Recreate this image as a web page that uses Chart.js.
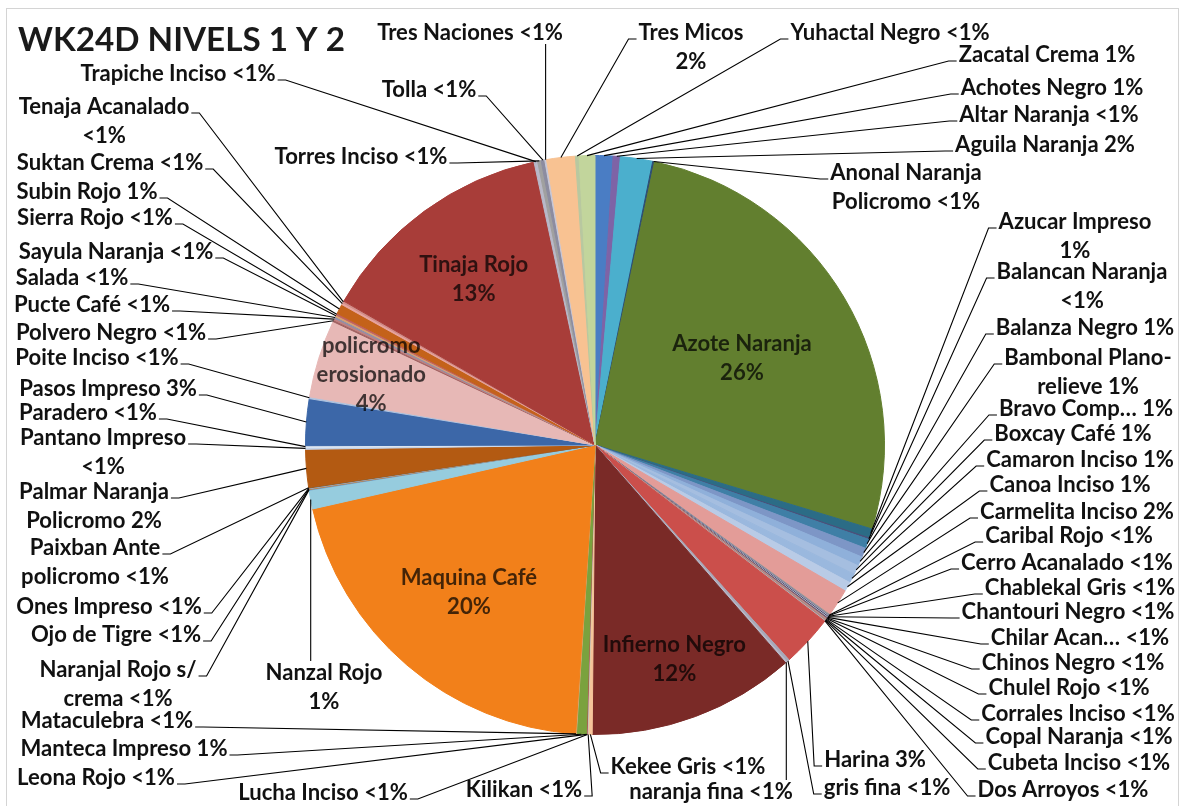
<!DOCTYPE html>
<html>
<head>
<meta charset="utf-8">
<script src="https://cdn.jsdelivr.net/npm/chart.js@4.4.0/dist/chart.umd.min.js"></script>
<style>
html, body { margin: 0; padding: 0; background: #fff; }
canvas { display: block; }
</style>
</head>
<body>
<canvas id="pie" width="1182" height="806"></canvas>
<script>
const title = 'WK24D NIVELS 1 Y 2';

// slices, clockwise from 12 o'clock
const categories = [
  'Achotes Negro', 'Altar Naranja', 'Aguila Naranja', 'Anonal Naranja Policromo', 'Azote Naranja',
  'Azucar Impreso', 'Balancan Naranja', 'Balanza Negro', 'Bambonal Plano-relieve', 'Bravo Comp…',
  'Boxcay Café', 'Camaron Inciso', 'Canoa Inciso', 'Carmelita Inciso', 'Caribal Rojo',
  'Cerro Acanalado', 'Chablekal Gris', 'Chantouri Negro', 'Chilar Acan…', 'Chinos Negro',
  'Chulel Rojo', 'Corrales Inciso', 'Copal Naranja', 'Cubeta Inciso', 'Dos Arroyos',
  'Harina', 'gris fina', 'naranja fina', 'Infierno Negro',
  'Kekee Gris', 'Kilikan', 'Lucha Inciso', 'Leona Rojo', 'Manteca Impreso', 'Mataculebra', 'Maquina Café',
  'Nanzal Rojo', 'Naranjal Rojo s/ crema', 'Ojo de Tigre', 'Ones Impreso', 'Paixban Ante policromo',
  'Palmar Naranja Policromo', 'Pantano Impreso', 'Paradero', 'Pasos Impreso', 'Poite Inciso',
  'policromo erosionado', 'Polvero Negro', 'Pucte Café', 'Salada', 'Sayula Naranja', 'Sierra Rojo',
  'Subin Rojo', 'Suktan Crema', 'Tenaja Acanalado', 'Tinaja Rojo',
  'Trapiche Inciso', 'Torres Inciso', 'Tolla', 'Tres Naciones', 'Tres Micos', 'Yuhactal Negro', 'Zacatal Crema'
];

// percent of sherds
const values = [
  1.0, 0.4, 1.8, 0.1, 26.4,
  0.52, 0.08, 0.52, 0.52, 0.52,
  0.52, 0.52, 0.52, 1.55, 0.06,
  0.04, 0.04, 0.04, 0.04, 0.04,
  0.04, 0.04, 0.04, 0.04, 0.04,
  2.9, 0.15, 0.1, 11.6,
  0.2, 0.04, 0.04, 0.04, 0.55, 0.04, 20.4,
  1.05, 0.04, 0.04, 0.04, 0.04,
  2.1, 0.1, 0.1, 2.6, 0.1,
  4.35, 0.1, 0.1, 0.1, 0.1, 0.1,
  0.55, 0.12, 0.1, 13.35,
  0.2, 0.2, 0.2, 0.1, 1.6, 0.2, 0.88
];

const sliceColors = [
  '#4A7DC4', '#7E63A6', '#4BAFCD', '#2C4D75', '#627F2F',
  '#2B6C86', '#4B4F7A', '#3F7FA6', '#7D96C6', '#8FB0DA',
  '#A5BEE0', '#9AB8DE', '#B9CBE6', '#E39C98', '#9A9A9A',
  '#7A7A9A', '#B0B0C0', '#404060', '#C0C0D0', '#555570',
  '#B06060', '#A0A0B0', '#D08060', '#9090A0', '#C8B0B0',
  '#CB4F4B', '#A8A8B8', '#B8B8C8', '#7A2A27',
  '#F6C49A', '#E8D0A0', '#C0C0C0', '#B05050', '#7AA23E', '#D0B080', '#F2801A',
  '#96CCDE', '#6F9FCB', '#C08040', '#9CB0D0', '#8A6030',
  '#B35A12', '#C6D5EA', '#DDE6F2', '#3C67A8', '#B0C4E0',
  '#E7B8B6', '#A06060', '#C08080', '#9090A8', '#D9A070', '#C06060',
  '#C4621A', '#E8A4A0', '#D08C88', '#A83D39',
  '#B8B8C8', '#A0A0A0', '#8C8CA0', '#C8C8D8', '#F8C292', '#B8C8A0', '#C2D59C'
];

// label boxes: [centre x, first line y, break points]
const outerLabels = {
  'Tres Naciones': [470, 33],
  'Trapiche Inciso': [178, 74],
  'Tolla': [429, 90],
  'Torres Inciso': [361, 157],
  'Tres Micos': [691, 33, [10]],
  'Yuhactal Negro': [890, 33],
  'Zacatal Crema': [1047, 55],
  'Achotes Negro': [1052, 88],
  'Altar Naranja': [1049, 115],
  'Aguila Naranja': [1045, 145],
  'Anonal Naranja Policromo': [906, 173, [14]],
  'Azucar Impreso': [1075, 222, [14]],
  'Balancan Naranja': [1082, 272, [16]],
  'Balanza Negro': [1085, 328],
  'Bambonal Plano-relieve': [1088, 358, [15]],
  'Bravo Comp…': [1086, 409],
  'Boxcay Café': [1073, 434],
  'Camaron Inciso': [1080, 460],
  'Canoa Inciso': [1070, 485],
  'Carmelita Inciso': [1077, 512],
  'Caribal Rojo': [1069, 536],
  'Cerro Acanalado': [1067, 563],
  'Chablekal Gris': [1080, 588],
  'Chantouri Negro': [1068, 612],
  'Chilar Acan…': [1080, 638],
  'Chinos Negro': [1073, 663],
  'Chulel Rojo': [1069, 688],
  'Corrales Inciso': [1078, 714],
  'Copal Naranja': [1079, 737],
  'Cubeta Inciso': [1079, 763],
  'Dos Arroyos': [1063, 790],
  'Harina': [875, 760],
  'gris fina': [887, 788],
  'naranja fina': [711, 792],
  'Kekee Gris': [688, 767],
  'Kilikan': [524, 790],
  'Lucha Inciso': [323, 793],
  'Leona Rojo': [96, 778],
  'Manteca Impreso': [124, 749],
  'Mataculebra': [107, 721],
  'Nanzal Rojo': [324, 673, [11]],
  'Naranjal Rojo s/ crema': [118, 670, [16]],
  'Ojo de Tigre': [116, 635],
  'Ones Impreso': [109, 607],
  'Paixban Ante policromo': [95, 548, [12]],
  'Palmar Naranja Policromo': [94, 492, [14]],
  'Pantano Impreso': [103, 438, [15]],
  'Paradero': [88, 413],
  'Pasos Impreso': [108, 389],
  'Poite Inciso': [97, 358],
  'Polvero Negro': [111, 333],
  'Pucte Café': [92, 305],
  'Salada': [72, 278],
  'Sayula Naranja': [116, 252],
  'Sierra Rojo': [95, 218],
  'Subin Rojo': [87, 192],
  'Suktan Crema': [110, 163],
  'Tenaja Acanalado': [104, 107, [16]]
};

// labels inside the pie: [fraction of radius, break points]
const innerLabels = {
  'Azote Naranja': [0.59, [13]],
  'Tinaja Rojo': [0.71, [11]],
  'Maquina Café': [0.67, [12]],
  'Infierno Negro': [0.79, [14]],
  'policromo erosionado': [0.81, [9, 20]]
};

const total = values.reduce((a, b) => a + b, 0);

function pctText(v) {
  const p = v / total * 100;
  return p < 0.5 ? '<1%' : Math.round(p) + '%';
}

function labelLines(i, breaks) {
  const full = categories[i] + ' ' + pctText(values[i]);
  if (!breaks) return [full];
  const out = [];
  let prev = 0;
  breaks.forEach(b => { out.push(full.slice(prev, b).trim()); prev = b; });
  out.push(full.slice(prev).trim());
  return out;
}

const FONT = "Lato, 'Open Sans', sans-serif";
const probe = document.createElement('canvas').getContext('2d');
function fitSize(text, width) {
  probe.font = 'bold 100px ' + FONT;
  return 100 * width / probe.measureText(text).width;
}
const labelSize = fitSize('Chantouri Negro <1%', 213);
const titleSize = fitSize(title, 327);
const LINE_H = 29;

const labelsPlugin = {
  id: 'excelLabels',
  beforeDraw(chart) {
    const ctx = chart.ctx;
    ctx.save();
    ctx.fillStyle = '#fff';
    ctx.fillRect(0, 0, chart.width, chart.height);
    ctx.strokeStyle = '#D4D4D4';
    ctx.lineWidth = 1;
    ctx.strokeRect(6.5, 8.5, chart.width - 10, chart.height + 20);
    ctx.restore();
  },
  afterDraw(chart) {
    const ctx = chart.ctx;
    const arcs = chart.getDatasetMeta(0).data;
    ctx.save();

    ctx.font = `bold ${titleSize}px ${FONT}`;
    ctx.fillStyle = '#1a1a1a';
    ctx.textBaseline = 'middle';
    ctx.textAlign = 'left';
    ctx.fillText(title, 18, 40);

    ctx.font = `bold ${labelSize}px ${FONT}`;
    ctx.textAlign = 'center';
    ctx.strokeStyle = '#000';
    ctx.lineWidth = 1.1;

    categories.forEach((cat, i) => {
      const arc = arcs[i];
      const mid = (arc.startAngle + arc.endAngle) / 2;

      const inner = innerLabels[cat];
      if (inner) {
        const lines = labelLines(i, inner[1]);
        const r = arc.outerRadius * inner[0];
        const cx = arc.x + r * Math.cos(mid);
        const cy = arc.y + r * Math.sin(mid);
        ctx.fillStyle = 'rgba(0,0,0,0.72)';
        lines.forEach((t, k) => ctx.fillText(t, cx, cy + (k - (lines.length - 1) / 2) * LINE_H));
        return;
      }

      const pos = outerLabels[cat];
      if (!pos) return;
      const [lx, ly] = pos;
      const lines = labelLines(i, pos[2]);
      ctx.fillStyle = '#111';
      lines.forEach((t, k) => ctx.fillText(t, lx, ly + k * LINE_H));

      // leader line to the middle of the slice edge
      const px = arc.x + arc.outerRadius * Math.cos(mid);
      const py = arc.y + arc.outerRadius * Math.sin(mid);
      const w = ctx.measureText(lines[0]).width;
      const left = lx - w / 2, right = lx + w / 2;
      const top = ly - 12, bottom = ly + (lines.length - 1) * LINE_H + 11;
      ctx.beginPath();
      if (px >= left && px <= right) {
        ctx.moveTo(px, py < top ? top : bottom);
        ctx.lineTo(px, py);
      } else {
        const dir = px > right ? 1 : -1;
        const ax = dir > 0 ? right + 2 : left - 2;
        const ay = ly + 6;
        ctx.moveTo(ax, ay);
        ctx.lineTo(ax + dir * 8, ay);
        ctx.lineTo(px, py);
      }
      ctx.stroke();
    });
    ctx.restore();
  }
};

new Chart(document.getElementById('pie'), {
  type: 'pie',
  data: {
    labels: categories,
    datasets: [{
      data: values,
      backgroundColor: sliceColors,
      borderColor: sliceColors,
      borderWidth: 1
    }]
  },
  options: {
    responsive: false,
    animation: false,
    layout: { padding: { left: 305, right: 297, top: 155, bottom: 71 } },
    plugins: {
      legend: { display: false },
      tooltip: { enabled: false }
    }
  },
  plugins: [labelsPlugin]
});
</script>
</body>
</html>
